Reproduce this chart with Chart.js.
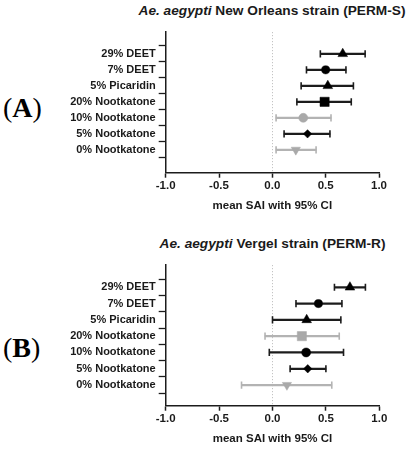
<!DOCTYPE html>
<html>
<head>
<meta charset="utf-8">
<script src="https://cdn.jsdelivr.net/npm/chart.js@4.4.0/dist/chart.umd.min.js"></script>
<style>
  html, body { margin: 0; padding: 0; background: #fff; }
  #wrap { position: relative; width: 409px; height: 450px; overflow: hidden; }
  .cv { position: absolute; left: 0; width: 409px; height: 225px; }
  .title { position: absolute; white-space: nowrap; transform: translateX(-50%);
           font-family: "Liberation Sans", Arial, sans-serif; font-weight: bold;
           font-size: 13.7px; line-height: 14px; color: #1a1a1a; }
  .panel { position: absolute; left: 3px; font-family: "Liberation Serif", "Times New Roman", serif;
           font-size: 28px; line-height: 28px; color: #000; }
  .panel b { font-weight: bold; }
</style>
</head>
<body>
<div id="wrap">
  <div class="title" style="left:272px; top:4.3px;"><i>Ae. aegypti</i> New Orleans strain (PERM-S)</div>
  <div class="title" style="left:272.5px; top:237.3px;"><i>Ae. aegypti</i> Vergel strain (PERM-R)</div>
  <div class="panel" style="top:93.6px;">(<b>A</b>)</div>
  <div class="panel" style="top:334px;">(<b>B</b>)</div>
  <div class="cv" style="top:0;"><canvas id="cA"></canvas></div>
  <div class="cv" style="top:225px;"><canvas id="cB"></canvas></div>
</div>
<script>
// ---- data ----
const categories = ['29% DEET', '7% DEET', '5% Picaridin', '20% Nootkatone', '10% Nootkatone', '5% Nootkatone', '0% Nootkatone'];
const xTicks = [-1.0, -0.5, 0.0, 0.5, 1.0];
const xTitle = 'mean SAI with 95% CI';

// New Orleans strain (PERM-S)
const meanS = [0.66, 0.50, 0.52, 0.49, 0.29, 0.33, 0.22];
const lowS  = [0.45, 0.32, 0.27, 0.23, 0.035, 0.11, 0.035];
const highS = [0.87, 0.69, 0.76, 0.74, 0.55, 0.54, 0.41];

// Vergel strain (PERM-R)
const meanR = [0.725, 0.43, 0.32, 0.275, 0.315, 0.33, 0.135];
const lowR  = [0.58, 0.22, 0.00, -0.07, -0.03, 0.165, -0.29];
const highR = [0.87, 0.65, 0.64, 0.625, 0.665, 0.50, 0.555];

// ---- styles ----
const greyRowsS = [4, 6];
const greyRowsR = [3, 6];
const markerStyles = ['triangle', 'circle', 'triangle', 'rect', 'circle', 'rectRot', 'triangle'];
const markerRotation = [0, 0, 0, 0, 0, 0, 180];
const markerRadius = [5.6, 4.1, 5.6, 6.5, 4.5, 4.2, 5.3];
const DARK = '#1c1c1c', BLACK = '#000000', GREY_M = '#a9a9a9', GREY_L = '#b3b3b3';
const FONT = '"Liberation Sans", Arial, sans-serif';

function build(canvasId, mean, low, high, greyRows, lay) {
  const isGrey = i => greyRows.includes(i);
  const barData = categories.map((c, i) => ({ y: i, x: [low[i], high[i]] }));
  const capData = [], capColors = [];
  categories.forEach((c, i) => {
    capData.push({ y: i, x: low[i] }); capData.push({ y: i, x: high[i] });
    const col = isGrey(i) ? GREY_L : DARK;
    capColors.push(col, col);
  });
  const markData = categories.map((c, i) => ({ y: i, x: mean[i] }));
  const markColors = categories.map((c, i) => isGrey(i) ? GREY_M : BLACK);

  new Chart(document.getElementById(canvasId), {
    type: 'bar',
    data: {
      datasets: [
        {
          type: 'bar', data: barData, barThickness: 1.6,
          backgroundColor: categories.map((c, i) => isGrey(i) ? GREY_L : DARK),
          borderWidth: 0, order: 3
        },
        {
          type: 'line', data: capData, showLine: false,
          pointStyle: 'line', rotation: 90, pointRadius: 3.6, pointBorderWidth: 1.6,
          pointBorderColor: capColors, pointBackgroundColor: capColors, order: 2
        },
        {
          type: 'line', data: markData, showLine: false,
          pointStyle: markerStyles, rotation: markerRotation, pointRadius: markerRadius,
          pointBorderWidth: 0.5, pointBorderColor: markColors, pointBackgroundColor: markColors, order: 1
        }
      ]
    },
    options: {
      indexAxis: 'y',
      responsive: true, maintainAspectRatio: false, animation: false,
      layout: { padding: lay.padding },
      plugins: { legend: { display: false }, tooltip: { enabled: false }, title: { display: false } },
      scales: {
        x: {
          type: 'linear', min: -1, max: 1,
          afterBuildTicks: s => { s.ticks = xTicks.map(v => ({ value: v })); },
          afterFit: s => { s.height = 40; },
          border: { color: DARK, width: 1.5, dash: [1.2, 1.8] },
          grid: {
            color: c => (c.tick && c.tick.value === 0) ? '#c4c4c4' : 'rgba(0,0,0,0)',
            lineWidth: 1, drawTicks: true, tickLength: 5, tickColor: DARK, tickWidth: 1.5,
            tickBorderDash: []
          },
          ticks: {
            color: '#1a1a1a', padding: 1, maxRotation: 0, autoSkip: false,
            font: { family: FONT, weight: 'bold', size: 11.5 },
            callback: v => Number(v).toFixed(1)
          },
          title: {
            display: true, text: xTitle, color: '#1a1a1a',
            font: { family: FONT, weight: 'bold', size: 11.5 }, padding: { top: 6, bottom: 0 }
          }
        },
        y: {
          type: 'linear', reverse: true, min: lay.ymin, max: lay.ymax,
          afterBuildTicks: s => { s.ticks = categories.map((c, i) => ({ value: i })); },
          afterFit: s => { s.width = 165.7; },
          border: { color: DARK, width: 1.5 },
          grid: { drawOnChartArea: false, drawTicks: true, tickLength: 7, tickColor: DARK, tickWidth: 1.3 },
          ticks: {
            color: '#1a1a1a', padding: 3, autoSkip: false,
            font: { family: FONT, weight: 'bold', size: 11 },
            callback: v => categories[v]
          }
        }
      }
    }
  });
}

build('cA', meanS, lowS, highS, greyRowsS, { padding: { left: 0, top: 32, right: 30, bottom: 12.3 }, ymin: -0.734, ymax: 6.80 });
build('cB', meanR, lowR, highR, greyRowsR, { padding: { left: 0, top: 40, right: 29.7, bottom: 4.3 }, ymin: -0.75, ymax: 6.65 });
</script>
</body>
</html>
